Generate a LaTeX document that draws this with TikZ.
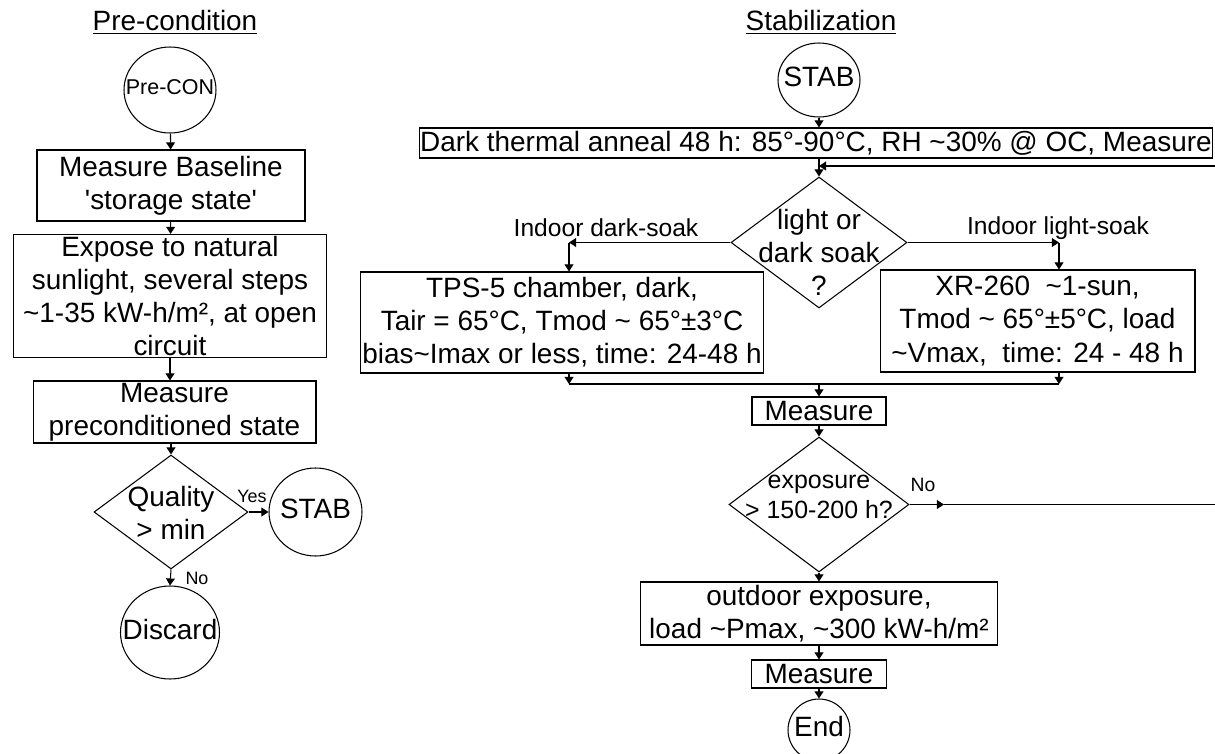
\documentclass[tikz,border=0pt]{standalone}
\usepackage{fontspec}
\setmainfont{Liberation Sans}
\usepackage{tikz}
\usetikzlibrary{shapes.geometric, arrows.meta}

% text that may run over the outline of its shape
\newcommand{\zw}[1]{\makebox[0pt]{\begin{tabular}{@{}c@{}}#1\end{tabular}}}

\begin{document}
\begin{tikzpicture}[x=0.02cm, y=-0.02cm,
  every node/.style={font=\fontsize{15.9}{18.8}\selectfont},
  box/.style={draw, rectangle, align=center, inner sep=1pt, line width=0.6pt},
  dia/.style={draw, diamond, inner sep=0pt, line width=0.6pt},
  diatxt/.style={align=center, inner sep=0pt},
  oval/.style={draw, ellipse, inner sep=0pt, line width=0.6pt},
  lbl/.style={font=\fontsize{14}{16}\selectfont, inner sep=0pt},
  yn/.style={font=\fontsize{10.2}{12}\selectfont, inner sep=0pt},
  arr/.style={-{Triangle[length=4pt,width=5pt]}, line width=0.6pt},
  line/.style={line width=0.6pt}]
\useasboundingbox (0,0) rectangle (1215,754);
\clip (0,0) rectangle (1215,754);

% 标题
\node (tPre) at (175,22) {\underline{Pre-condition}};
\node (tStab) at (821,22) {\underline{Stabilization}};

% 左列 预处理
\node[oval, minimum width=1.84cm, minimum height=1.72cm,
  font=\fontsize{12.2}{14}\selectfont] (preCon) at (170,90) {\zw{Pre-CON}};
\node[box, minimum width=5.36cm, minimum height=1.42cm] (base) at (171,185.5)
  {Measure Baseline\\\textquotesingle storage state\textquotesingle};
\node[box, minimum width=6.28cm, minimum height=2.32cm] (expose) at (170,296)
  {Expose to natural\\sunlight, several steps\\\textasciitilde 1-35 kW-h/m², at open\\circuit};
\node[box, minimum width=5.66cm, minimum height=1.24cm] (precond) at (174.5,412)
  {Measure\\preconditioned state};
\node[dia, minimum width=3.08cm, minimum height=2.28cm] (quality) at (171,512) {};
\node[diatxt] (qualityTxt) at (171,513) {Quality\\> min};
\node[oval, minimum width=1.86cm, minimum height=1.76cm] (stabL) at (315.5,512) {\zw{STAB}};
\node[oval, minimum width=1.98cm, minimum height=1.86cm] (discard) at (170,632.5) {\zw{Discard}};

% 右列 稳定化
\node[oval, minimum width=1.64cm, minimum height=1.48cm] (stabR) at (819,80) {\zw{STAB}};
\node[box, minimum width=15.88cm, minimum height=0.6cm, inner sep=0pt] (anneal) at (816,143)
  {Dark thermal anneal 48 h: 85°-90°C, RH \textasciitilde 30\% @ OC, Measure};
\node[dia, minimum width=3.52cm, minimum height=2.62cm] (soak) at (819,242.5) {};
\node[diatxt] (soakTxt) at (819,252) {light or\\dark soak\\?};
\node[box, minimum width=8cm, minimum height=2.02cm] (tps) at (562,322.5)
  {TPS-5 chamber, dark,\\Tair = 65°C, Tmod \textasciitilde{} 65°±3°C\\bias\textasciitilde Imax or less, time: 24-48 h};
\node[box, minimum width=6.3cm, minimum height=2.04cm] (xr) at (1037.5,321)
  {XR-260\ \ \textasciitilde 1-sun,\\Tmod \textasciitilde{} 65°±5°C, load\\\textasciitilde Vmax,\ \ time: 24 - 48 h};
\node[box, minimum width=2.68cm, minimum height=0.56cm] (meas1) at (819,411) {Measure};
\node[dia, minimum width=3.6cm, minimum height=2.7cm] (expo) at (819,504.5) {};
\node[diatxt, font=\fontsize{14.2}{17}\selectfont] (expoTxt) at (819,497) {exposure\\> 150-200 h?};
\node[box, minimum width=7.16cm, minimum height=1.26cm] (outdoor) at (819,613.5)
  {outdoor exposure,\\load \textasciitilde Pmax, \textasciitilde 300 kW-h/m²};
\node[box, minimum width=2.7cm, minimum height=0.56cm] (meas2) at (819,674) {Measure};
\node[oval, minimum width=1.24cm, minimum height=1.24cm] (endc) at (819,730) {\zw{End}};

% 标签
\node[lbl] (dkLbl) at (606,228) {Indoor dark-soak};
\node[lbl] (ltLbl) at (1058,228) {Indoor light-soak};
\node[yn] (yes) at (252,496) {Yes};
\node[yn] (noL) at (197,578) {No};
\node[yn, font=\fontsize{11}{13}\selectfont] (noR) at (923,485) {No};

% 折点
\coordinate (dk) at (569,242.5);
\coordinate (lt) at (1059,242.5);
\coordinate (mgL) at (569,384);
\coordinate (mgR) at (1059,384);
\coordinate (mgC) at (819,384);
\coordinate (noEnd) at (944,504.5);
\coordinate (loopB) at (1218,504.5);
\coordinate (loopT) at (1218,166);
\coordinate (back) at (819,166);

% ========== 连线 ==========
% 左列
\draw[arr] (preCon)--(base);
\draw[arr] (base)--(expose);
\draw[arr] (expose.south)--(expose.south |- precond.north);
\draw[arr] (precond.south -| quality.north)--(quality.north);
\draw[arr] (quality.east)--(stabL.west);
\draw[arr] (quality.south)--(discard.north);

% 右列
\draw[arr] (stabR.south)--(stabR.south |- anneal.north);
\draw[arr] (soak.north |- anneal.south)--(soak.north);
\draw[arr] (soak.west)--(dk);
\draw[arr] (dk)--(dk |- tps.north);
\draw[arr] (soak.east)--(lt);
\draw[arr] (lt)--(lt |- xr.north);
\draw[arr] (dk |- tps.south)--(mgL);
\draw[arr] (lt |- xr.south)--(mgR);
\draw[line] (mgL)--(mgR);
\draw[arr] (mgC)--(meas1);
\draw[arr] (meas1)--(expo);
\draw[arr] (expo.east)--(noEnd);
\draw[line] (noEnd)--(loopB)--(loopT);
\draw[arr] (loopT)--(back);
\draw[arr] (expo.south)--(outdoor.north);
\draw[arr] (outdoor)--(meas2);
\draw[arr] (meas2)--(endc);
\end{tikzpicture}
\end{document}
